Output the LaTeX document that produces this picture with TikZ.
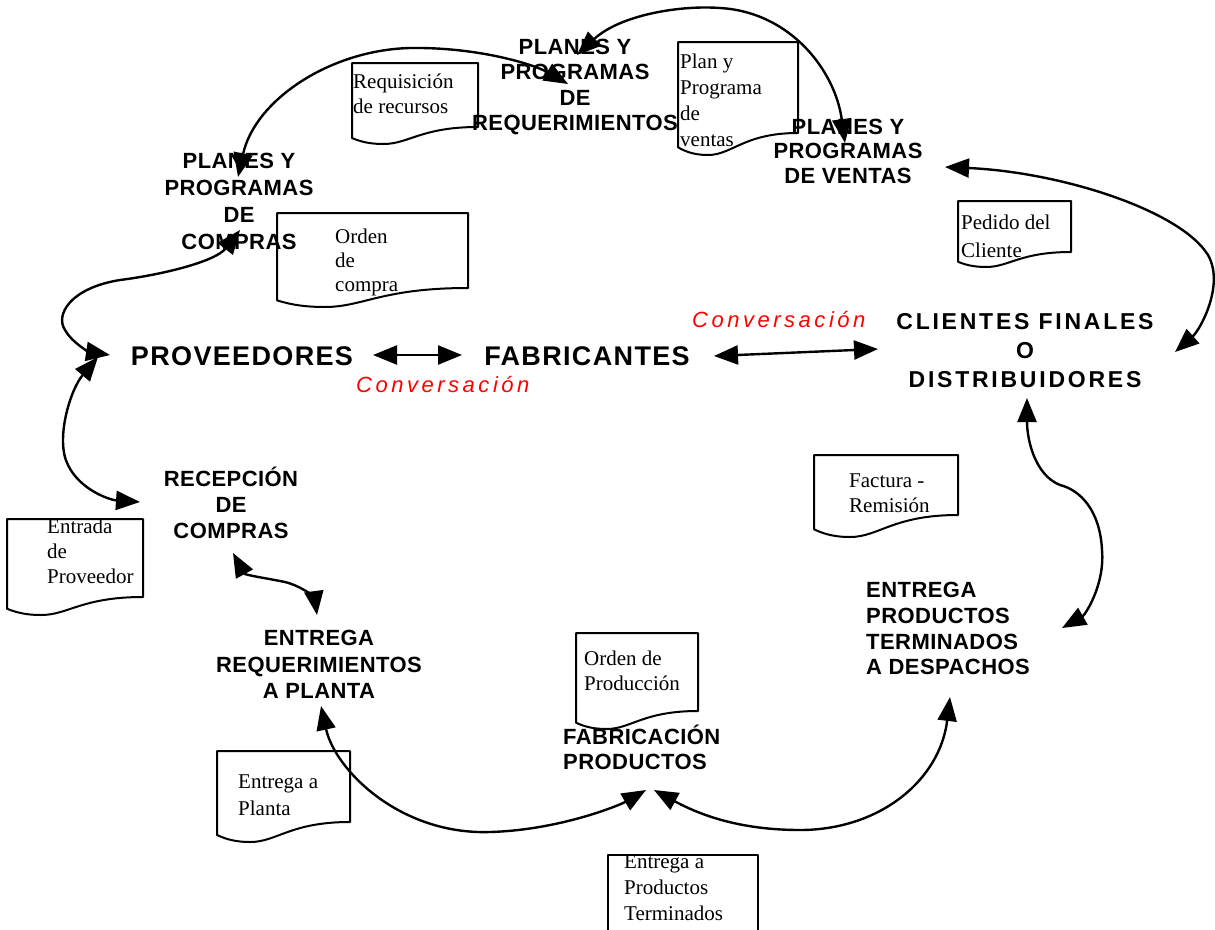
\documentclass[tikz,border=0pt]{standalone}
\usepackage{fontspec}
\setmainfont{Liberation Serif}
\newfontfamily\labfam[LetterSpace=2]{Liberation Sans}
\newfontfamily\bigfam[LetterSpace=5]{Liberation Sans}
\newfontfamily\clifam[LetterSpace=12]{Liberation Sans}
\newfontfamily\convfam[LetterSpace=16]{Liberation Sans}
\usetikzlibrary{arrows.meta}
\newcommand\docshape[5]{%
  \pgfmathsetmacro\dsw{#3-#1}%
  \draw[docline] (#1,#2) -- (#3,#2) -- (#3,#4)
    .. controls ({#1+0.55*\dsw},{#4}) and ({#1+0.45*\dsw},{#4+#5}) .. ({#1+0.25*\dsw},{#4+#5})
    .. controls ({#1+0.12*\dsw},{#4+#5}) and ({#1+0.05*\dsw},{#4+0.8*#5}) .. (#1,{#4+0.65*#5}) -- cycle;}
\begin{document}
\begin{tikzpicture}[x=1pt,y=-1pt,
  docline/.style={line width=2pt, line join=round},
  lab/.style={font=\labfam\bfseries\fontsize{22}{#1}\selectfont, align=center, inner sep=0pt, anchor=north},
  lab/.default=26,
  labl/.style={font=\labfam\bfseries\fontsize{22}{#1}\selectfont, align=left, inner sep=0pt, anchor=north west},
  labl/.default=26,
  big/.style={font=\bigfam\bfseries\fontsize{27}{32}\selectfont, inner sep=0pt, anchor=base},
  doc/.style={font=\fontsize{21}{#1}\selectfont, align=left, inner sep=0pt, anchor=north west},
  doc/.default=25,
  conv/.style={font=\convfam\itshape\fontsize{22}{26}\selectfont, text=red, inner sep=0pt, anchor=base west},
  conn/.style={line width=2.4pt, {Triangle[length=24pt,width=19pt]}-{Triangle[length=24pt,width=19pt]}}
]
\useasboundingbox (0,0) rectangle (1215,929);

% ---------- document shapes ----------
\docshape{352}{63}{478}{127}{17}
\docshape{678}{42}{798}{133}{22}
\docshape{277}{213}{468}{288}{19}
\docshape{958}{201}{1071}{252}{15}
\docshape{7}{519}{143}{597}{18}
\docshape{814}{455}{958}{515}{22}
\docshape{576}{633}{698}{711}{18}
\docshape{217}{751}{350}{822}{20}
\draw[docline] (608,935) -- (608,855) -- (758,855) -- (758,935);

% ---------- document texts ----------
\node[doc] (dReq) at (353,70.5) {\strut Requisición\\de recursos};
\node[doc=26] (dPlan) at (680,50) {\strut Plan y\\Programa\\de\\ventas};
\node[doc=24] (dOC) at (335,226) {\strut Orden\\de\\compra};
\node[doc=28] (dPed) at (961,210) {\strut Pedido del\\Cliente};
\node[doc] (dEnt) at (47,515.5) {\strut Entrada\\de\\Proveedor};
\node[doc] (dFac) at (849,469.5) {\strut Factura -\\Remisión};
\node[doc] (dOP) at (584,647.5) {\strut Orden de\\Producción};
\node[doc=27] (dEP) at (238,769) {\strut Entrega a\\Planta};
\node[doc=26] (dEPT) at (624,850) {\strut Entrega a\\Productos\\Terminados};

% ---------- labels ----------
\node[lab=25.5] (req) at (575,36) {\strut PLANES Y\\PROGRAMAS\\DE\\REQUERIMIENTOS};
\node[lab=24.5] (ven) at (848,117) {\strut PLANES Y\\PROGRAMAS\\DE VENTAS};
\node[lab=27] (com) at (239,149) {\strut PLANES Y\\PROGRAMAS\\DE\\COMPRAS};
\node[lab=26] (rec) at (231,467) {\strut RECEPCIÓN\\DE\\COMPRAS};
\node[lab=26.5] (ereq) at (319,627) {\strut ENTREGA\\REQUERIMIENTOS\\A PLANTA};
\node[labl=25] (fab2) at (563,725) {\strut FABRICACIÓN\\PRODUCTOS};
\node[labl=25.7] (ept) at (866,579.5) {\strut ENTREGA\\PRODUCTOS\\TERMINADOS\\A DESPACHOS};
\node[font=\clifam\bfseries\fontsize{23}{29}\selectfont, align=center, inner sep=0pt, anchor=north] (cli) at (1025,309) {\strut CLIENTES FINALES\\O\\DISTRIBUIDORES};
\node[big] (prov) at (242,365) {PROVEEDORES};
\node[big] (fab) at (587,365) {FABRICANTES};
\begin{scope}
  \clip (600,290) rectangle (867,340);
  \node[conv] (conv1) at (692,327) {Conversación};
\end{scope}
\begin{scope}
  \clip (340,360) rectangle (532,400);
  \node[conv] (conv2) at (356,392) {Conversación};
\end{scope}

% ---------- connector end points ----------
\coordinate (comT) at (238,177);
\coordinate (reqL) at (568,84);
\coordinate (reqR) at (577,55);
\coordinate (venT) at (845,143);
\coordinate (comB) at (240,230);
\coordinate (provL) at (110,355);
\coordinate (provB) at (98,357);
\coordinate (recL) at (140,502);
\coordinate (recB) at (233,553);
\coordinate (ereqT) at (317,615);
\coordinate (ereqB) at (321,706);
\coordinate (fabL) at (646,790);
\coordinate (fabR) at (654,790);
\coordinate (eptB) at (950,697);
\coordinate (eptR) at (1062,628);
\coordinate (cliB) at (1027,398);
\coordinate (venR) at (945,167);
\coordinate (cliR) at (1175,352);
\coordinate (provR) at (373,355);
\coordinate (fabW) at (462,355);
\coordinate (fabE) at (714,356);
\coordinate (cliW) at (878,349);

% ---------- connectors ----------
\draw[conn] (comT) .. controls (255,100) and (330,50) .. (410,48) .. controls (480,47) and (535,65) .. (reqL);
\draw[conn] (reqR) .. controls (620,15) and (680,5) .. (720,8) .. controls (790,12) and (835,70) .. (venT);
\draw[conn] (comB) .. controls (215,262) and (160,275) .. (120,280) .. controls (70,288) and (55,315) .. (65,330) .. controls (72,343) and (90,352) .. (provL);
\draw[conn] (provB) .. controls (70,390) and (55,440) .. (68,465) .. controls (80,490) and (110,500) .. (recL);
\draw[conn] (recB) .. controls (245,575) and (265,578) .. (285,582) .. controls (305,587) and (315,600) .. (ereqT);
\draw[conn] (ereqB) .. controls (335,770) and (400,835) .. (490,832) .. controls (560,830) and (620,805) .. (fabL);
\draw[conn] (fabR) .. controls (700,815) and (740,830) .. (800,830) .. controls (880,830) and (940,780) .. (eptB);
\draw[conn] (eptR) .. controls (1085,615) and (1105,585) .. (1102,550) .. controls (1100,510) and (1080,490) .. (1060,485) .. controls (1035,475) and (1027,440) .. (cliB);
\draw[conn] (venR) .. controls (1060,172) and (1180,210) .. (1208,255) .. controls (1225,285) and (1200,330) .. (cliR);
\draw[conn] (provR) -- (fabW);
\draw[conn] (fabE) -- (cliW);
\end{tikzpicture}
\end{document}
